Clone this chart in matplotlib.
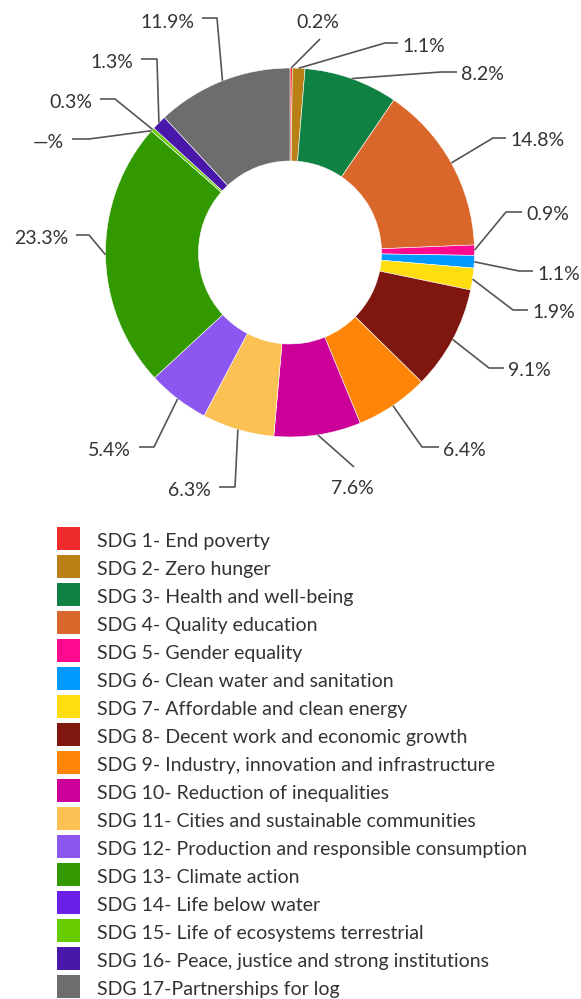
import matplotlib
matplotlib.use("Agg")
import matplotlib.pyplot as plt
from matplotlib.patches import Rectangle
import numpy as np

# ---- data ----
sdg_names = [
    "SDG 1- End poverty",
    "SDG 2- Zero hunger",
    "SDG 3- Health and well-being",
    "SDG 4- Quality education",
    "SDG 5- Gender equality",
    "SDG 6- Clean water and sanitation",
    "SDG 7- Affordable and clean energy",
    "SDG 8- Decent work and economic growth",
    "SDG 9- Industry, innovation and infrastructure",
    "SDG 10- Reduction of inequalities",
    "SDG 11- Cities and sustainable communities",
    "SDG 12- Production and responsible consumption",
    "SDG 13- Climate action",
    "SDG 14- Life below water",
    "SDG 15- Life of ecosystems terrestrial",
    "SDG 16- Peace, justice and strong institutions",
    "SDG 17-Partnerships for log",
]
shares = [0.2, 1.1, 8.2, 14.8, 0.9, 1.1, 1.9, 9.1, 6.4, 7.6, 6.3, 5.4, 23.3, 0.0, 0.3, 1.3, 11.9]
share_labels = ["0.2%", "1.1%", "8.2%", "14.8%", "0.9%", "1.1%", "1.9%", "9.1%", "6.4%",
                "7.6%", "6.3%", "5.4%", "23.3%", "—%", "0.3%", "1.3%", "11.9%"]
colors = ["#F02B2B", "#B98016", "#0F8142", "#D9672B", "#FF0A8F", "#0099FF", "#FFDD0F",
          "#7F1710", "#FF8508", "#CC0099", "#FBC153", "#8C57EE", "#339900", "#6A20E8",
          "#66CC00", "#4A17AB", "#6D6D6D"]

# ---- layout (pixel coordinates, y downward) ----
W, H = 581, 999
CX, CY = 290.0, 252.5
R_OUT, R_IN = 184.5, 91.5
# label leader layout: (elbow x, elbow y, end-of-horizontal x, text mode)
label_layout = [
    (320, 39, 320, "top"),
    (385, 43, 398, "left"),
    (441, 72, 457, "left"),
    (493, 138, 506, "left"),
    (506, 212, 522, "left"),
    (519, 271, 533, "left"),
    (513, 310, 528, "left"),
    (489, 368, 504, "left"),
    (422, 447, 439, "left"),
    (354, 467, 354, "bottom"),
    (235, 487, 219, "right"),
    (154, 447, 139, "right"),
    (89, 235, 76, "right"),
    (89, 139, 72, "right"),
    (115, 99, 100, "right"),
    (157, 59, 141, "right"),
    (217, 18, 202, "right"),
]

plt.rcParams["font.family"] = ["Lato", "DejaVu Sans"]
TEXT_C = "#333333"
LINE_C = "#555555"

fig = plt.figure(figsize=(W / 100, H / 100), dpi=100)
ax = fig.add_axes([0, 0, 1, 1])

# donut (y inverted -> counterclock=True is visually clockwise, start -90 is visual top)
wedges, _ = ax.pie(shares, colors=colors, startangle=-90, counterclock=True,
                   radius=R_OUT, center=(CX, CY), frame=True,
                   wedgeprops=dict(width=R_OUT - R_IN, edgecolor="white", linewidth=0.4))
ax.set_xlim(0, W)
ax.set_ylim(H, 0)
ax.set_aspect("equal")
ax.axis("off")

total = sum(shares)
cum = 0.0
for i, v in enumerate(shares):
    mid = (cum + v / 2) / total
    cum += v
    phi = 2 * np.pi * mid
    px = CX + R_OUT * np.sin(phi)
    py = CY - R_OUT * np.cos(phi)
    ex, ey, hx, mode = label_layout[i]
    ax.plot([px, ex, hx], [py, ey, ey], color=LINE_C, lw=1.2, solid_capstyle="butt")
    kw = dict(va="center", fontsize=14, color=TEXT_C)
    if mode == "left":
        ax.text(hx + 4, ey + 3, share_labels[i], ha="left", **kw)
    elif mode == "right":
        ax.text(hx - 8, ey + 4, share_labels[i], ha="right", **kw)
    elif mode == "top":
        ax.text(hx - 2, ey - 17, share_labels[i], ha="center", **kw)
    else:
        ax.text(hx - 2, ey + 21, share_labels[i], ha="center", **kw)

# legend
for i, (name, c) in enumerate(zip(sdg_names, colors)):
    yc = 538.5 + 28 * i
    ax.add_patch(Rectangle((57, yc - 11.5), 23, 23, facecolor=c, edgecolor="none"))
    ax.text(97, yc + 3, name, ha="left", va="center", fontsize=14, color=TEXT_C)

fig.savefig("out.png", dpi=100)
